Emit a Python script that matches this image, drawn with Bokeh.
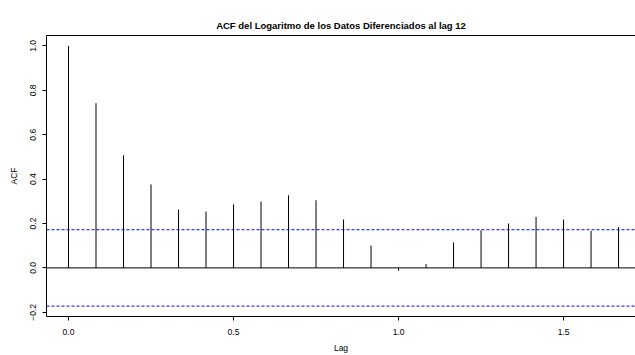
from bokeh.plotting import figure
from bokeh.models import Range1d, Span, FixedTicker, LinearAxis
from bokeh.embed import file_html
from bokeh.resources import INLINE

# ---- data ----
lag_index = list(range(21))
acf_values = [1.000, 0.742, 0.507, 0.376, 0.263, 0.254, 0.286, 0.299, 0.327,
              0.305, 0.218, 0.101, -0.013, 0.017, 0.115, 0.170, 0.200, 0.230,
              0.218, 0.167, 0.184]
conf_limit = 0.172
x_ticks = [0.0, 0.5, 1.0, 1.5]
x_tick_labels = ["0.0", "0.5", "1.0", "1.5"]
y_ticks = [-0.2, 0.0, 0.2, 0.4, 0.6, 0.8, 1.0]
y_tick_labels = ["\u22120.2", "0.0", "0.2", "0.4", "0.6", "0.8", "1.0"]
title_text = "ACF del Logaritmo de los Datos Diferenciados al lag 12"

lags = [i / 12 for i in lag_index]

FONT = "Liberation Sans"

p = figure(width=635, height=355, output_backend="svg", toolbar_location=None,
           x_range=Range1d(-0.0667, 1.718), y_range=Range1d(-0.2189, 1.0469),
           min_border_left=46, min_border_right=0, min_border_top=35,
           min_border_bottom=39, title=title_text)

p.outline_line_color = None
p.xgrid.visible = False
p.ygrid.visible = False
p.background_fill_color = "white"
p.border_fill_color = "white"

# top border of the box (an axis without ticks or labels), also spaces the title
top_axis = LinearAxis(ticker=FixedTicker(ticks=x_ticks), axis_line_color="black",
                      axis_line_width=1, major_tick_line_color=None,
                      minor_tick_line_color=None, major_tick_out=0, major_tick_in=0,
                      major_label_text_font_size="0px", major_label_standoff=12,
                      major_label_overrides={t: "" for t in x_ticks})
p.add_layout(top_axis, "above")

p.title.align = "center"
p.title.text_font = FONT
p.title.text_font_style = "bold"
p.title.text_font_size = "9.5px"
p.title.text_color = "black"
p.title.offset = 2

# bars
p.segment(x0=lags, y0=[0] * len(lags), x1=lags, y1=acf_values,
          line_color="black", line_width=1)

# zero line and confidence limits
p.add_layout(Span(location=0, dimension="width", line_color="black", line_width=1))
p.add_layout(Span(location=conf_limit, dimension="width", line_color="blue",
                  line_width=1, line_dash="3 2"))
p.add_layout(Span(location=-conf_limit, dimension="width", line_color="blue",
                  line_width=1, line_dash="3 2"))

# axes
xa = p.below[0]
xa.ticker = FixedTicker(ticks=x_ticks)
xa.major_label_overrides = dict(zip(x_ticks, x_tick_labels))
xa.axis_label = "Lag"
ya = p.left[0]
ya.ticker = FixedTicker(ticks=y_ticks)
ya.major_label_overrides = dict(zip(y_ticks, y_tick_labels))
ya.axis_label = "ACF"
ya.major_label_orientation = "vertical"

for ax in (xa, ya):
    ax.axis_line_color = "black"
    ax.axis_line_width = 1
    ax.major_tick_line_color = "black"
    ax.major_tick_out = 4
    ax.major_tick_in = 0
    ax.minor_tick_line_color = None
    ax.major_label_text_font = FONT
    ax.major_label_text_font_size = "8.5px"
    ax.major_label_text_color = "black"
    ax.axis_label_text_font = FONT
    ax.axis_label_text_font_size = "8.5px"
    ax.axis_label_text_font_style = "normal"
    ax.axis_label_text_color = "black"

xa.major_label_standoff = 8
xa.axis_label_standoff = 5
ya.major_label_standoff = 6
ya.axis_label_standoff = 9

open("out.html", "w").write(file_html(p, INLINE))
